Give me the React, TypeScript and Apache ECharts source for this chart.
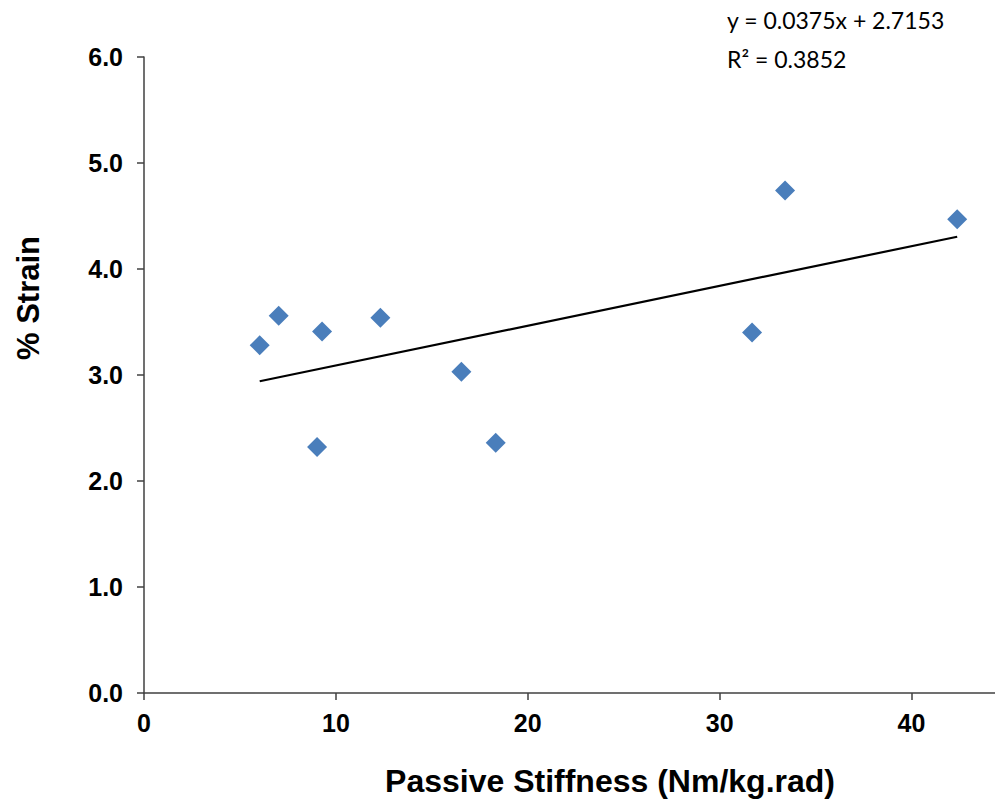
import React, { useEffect, useRef } from "react";
import * as echarts from "echarts";

const stiffness = [6.03, 7.02, 9.02, 9.28, 12.32, 16.54, 18.33, 31.69, 33.41, 42.38];
const strain = [3.28, 3.56, 2.32, 3.41, 3.54, 3.03, 2.36, 3.40, 4.74, 4.47];
const slope = 0.0375;
const intercept = 2.7153;
const equationText = "y = 0.0375x + 2.7153";
const rSquaredText = "R² = 0.3852";
const xTitle = "Passive Stiffness (Nm/kg.rad)";
const yTitle = "% Strain";

export default function App() {
  const ref = useRef<HTMLDivElement>(null);
  useEffect(() => {
    if (!ref.current) return;
    const chart = echarts.init(ref.current, null, { renderer: "svg" });
    const pts = stiffness.map((x, i) => [x, strain[i]]);
    const xMin = Math.min(...stiffness);
    const xMax = Math.max(...stiffness);
    const trend = [
      [xMin, slope * xMin + intercept],
      [xMax, slope * xMax + intercept],
    ];
    const axisColor = "#404040";
    chart.setOption({
      animation: false,
      backgroundColor: "#ffffff",
      grid: { left: 144, right: 0, top: 57, bottom: 110 },
      xAxis: {
        type: "value",
        min: 0,
        max: 44.35,
        interval: 10,
        splitLine: { show: false },
        axisLine: { lineStyle: { color: axisColor, width: 1.5 } },
        axisTick: { show: true, inside: false, length: 7, lineStyle: { color: axisColor, width: 1.5 } },
        axisLabel: {
          showMaxLabel: false,
          margin: 17,
          color: "#000",
          fontFamily: "Liberation Sans, Arial, sans-serif",
          fontWeight: "bold",
          fontSize: 25,
        },
      },
      yAxis: {
        type: "value",
        min: 0,
        max: 6,
        interval: 1,
        splitLine: { show: false },
        axisLine: { show: true, lineStyle: { color: axisColor, width: 1.5 } },
        axisTick: { show: true, inside: false, length: 7, lineStyle: { color: axisColor, width: 1.5 } },
        axisLabel: {
          margin: 21,
          color: "#000",
          fontFamily: "Liberation Sans, Arial, sans-serif",
          fontWeight: "bold",
          fontSize: 25,
          formatter: (v: number) => v.toFixed(1),
        },
      },
      graphic: [
        {
          type: "text",
          left: 727,
          top: 8,
          style: {
            text: equationText,
            fontFamily: "Lato, sans-serif",
            fontSize: 23,
            fill: "#000",
          },
        },
        {
          type: "text",
          left: 727,
          top: 47,
          style: {
            text: rSquaredText,
            fontFamily: "Lato, sans-serif",
            fontSize: 23,
            fill: "#000",
          },
        },
        {
          type: "text",
          x: 610,
          y: 781,
          style: {
            text: xTitle,
            fontFamily: "Liberation Sans, Arial, sans-serif",
            fontWeight: "bold",
            fontSize: 32,
            fill: "#000",
            align: "center",
            verticalAlign: "middle",
          },
        },
        {
          type: "text",
          x: 28,
          y: 298,
          rotation: Math.PI / 2,
          style: {
            text: yTitle,
            fontFamily: "Liberation Sans, Arial, sans-serif",
            fontWeight: "bold",
            fontSize: 31,
            fill: "#000",
            align: "center",
            verticalAlign: "middle",
          },
        },
      ],
      series: [
        {
          type: "line",
          data: trend,
          symbol: "none",
          lineStyle: { color: "#000", width: 2.2 },
          z: 2,
        },
        {
          type: "scatter",
          data: pts,
          symbol: "diamond",
          symbolSize: 20,
          itemStyle: { color: "#4A7EBB", opacity: 1 },
          z: 3,
        },
      ],
    });
    return () => chart.dispose();
  }, []);
  return (
    <div
      ref={ref}
      style={{ position: "fixed", left: 0, top: 0, width: 995, height: 803, background: "#fff" }}
    />
  );
}
